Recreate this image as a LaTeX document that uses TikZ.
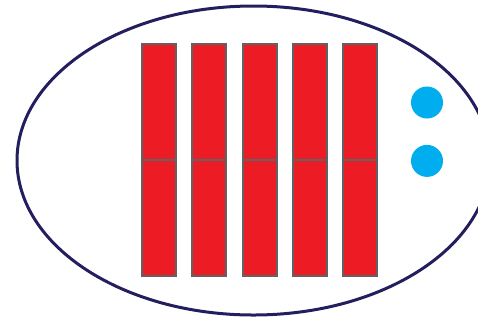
\documentclass[tikz,border=0pt]{standalone}
\usepackage{tikz}
\usetikzlibrary{positioning,calc}
\definecolor{cellRed}{HTML}{ED1C24}
\definecolor{cellEdge}{HTML}{616264}
\definecolor{dotBlue}{HTML}{00AEEF}
\definecolor{rimNavy}{HTML}{231F5F}
\begin{document}
\begin{tikzpicture}[x=1pt,y=-1pt,cell/.style={draw=cellEdge,fill=cellRed,line width=2pt,minimum width=34pt,minimum height=116pt,inner sep=0pt,outer sep=0pt},dot/.style={circle,fill=dotBlue,minimum size=32pt,inner sep=0pt}]
\useasboundingbox (0,0) rectangle (478,322);
\draw[rimNavy,line width=3pt] (253.5,160.5) ellipse [x radius=236.5pt,y radius=154.5pt];
\foreach \i in {1,...,5}{
  \node[cell] (top\i) at ({159+50.25*(\i-1)},102) {};
  \node[cell,below=0pt of top\i] (bot\i) {};
}
\node[dot] (dot1) at (427,102.5) {};
\node[dot,below=26pt of dot1] (dot2) {};
\end{tikzpicture}
\end{document}
